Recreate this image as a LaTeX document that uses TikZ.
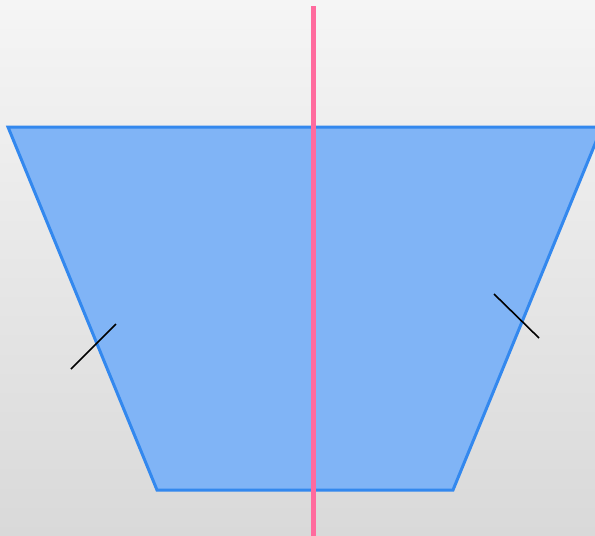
\documentclass[tikz,border=0pt]{standalone}
\usetikzlibrary{calc}
\definecolor{bgtop}{HTML}{F5F5F5}
\definecolor{bgbot}{HTML}{D9D9D9}
\definecolor{trapfill}{HTML}{80B4F6}
\definecolor{trapedge}{HTML}{3388EE}
\definecolor{axispink}{HTML}{FF6B9E}
\begin{document}
\begin{tikzpicture}[x=1pt, y=-1pt,
  trap/.style={draw=trapedge, fill=trapfill, line width=3pt, line join=miter},
  axisline/.style={draw=axispink, line width=5pt},
  legtick/.style={draw=black, line width=1.6pt}]
  \useasboundingbox (0,0) rectangle (595,536);
  \shade[top color=bgtop, bottom color=bgbot] (0,0) rectangle (595,536);
  \clip (0,0) rectangle (595,536);
  % trapezoid
  \coordinate (tl) at (8,127);
  \coordinate (tr) at (602,127);
  \coordinate (br) at (453,490);
  \coordinate (bl) at (157,490);
  \path[trap] (tl) -- (tr) -- (br) -- (bl) -- cycle;
  % equal legs
  \coordinate (l1) at (71,369);
  \coordinate (l2) at (116,324);
  \coordinate (r1) at (494,294);
  \coordinate (r2) at (539,338);
  \draw[legtick] (l1) -- (l2);
  \draw[legtick] (r1) -- (r2);
  % symmetry axis
  \coordinate (atop) at (313,6);
  \coordinate (abot) at (313,540);
  \draw[axisline] (atop) -- (abot);
\end{tikzpicture}
\end{document}
